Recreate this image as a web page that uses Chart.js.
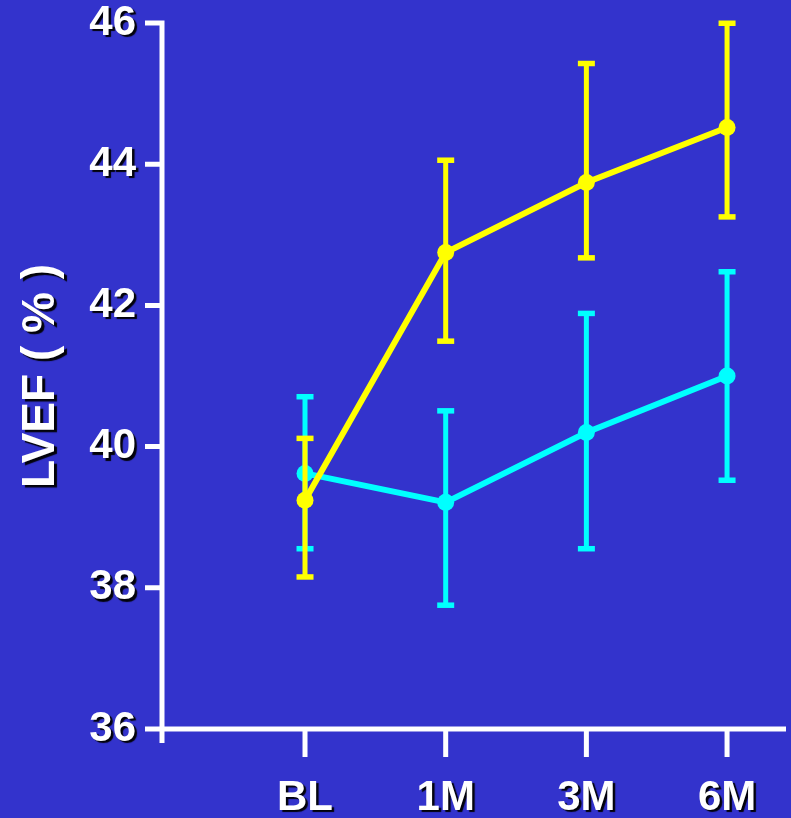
<!DOCTYPE html>
<html>
<head>
<meta charset="utf-8">
<title>LVEF</title>
<script src="https://cdn.jsdelivr.net/npm/chart.js@4.4.1/dist/chart.umd.min.js"></script>
<style>
  html, body { margin: 0; padding: 0; background: #3333cc; }
  #c { display: block; }
</style>
</head>
<body>
<canvas id="c" width="791" height="818"></canvas>
<script>
/* ── data ── */
const categories = ['BL', '1M', '3M', '6M'];
const yTicks     = [36, 38, 40, 42, 44, 46];

// yellow group
const yellowMean  = [39.24, 42.75, 43.74, 44.52];
const yellowUpper = [40.12, 44.06, 45.43, 46.00];
const yellowLower = [38.15, 41.49, 42.67, 43.25];

// cyan group
const cyanMean  = [39.62, 39.21, 40.20, 41.00];
const cyanUpper = [40.71, 40.51, 41.89, 42.48];
const cyanLower = [38.55, 37.75, 38.55, 39.52];

const BG     = '#3333cc';
const WHITE  = '#ffffff';
const YELLOW = '#ffff00';
const CYAN   = '#00ffff';
const FONT   = "'Liberation Sans', Arial, sans-serif";

const pts = arr => arr.map((v, i) => ({ x: i, y: v }));

/* ── background + text shadow (labels only) ── */
const slidePlugin = {
  id: 'slide',
  beforeDraw(chart) {
    const ctx = chart.ctx;
    ctx.save();
    ctx.fillStyle = BG;
    ctx.fillRect(0, 0, chart.width, chart.height);
    ctx.restore();
    ctx.shadowColor = 'rgba(0,0,0,0.95)';
    ctx.shadowOffsetX = 2.5;
    ctx.shadowOffsetY = 2.5;
    ctx.shadowBlur = 1;
  },
  beforeDatasetsDraw(chart) {
    const ctx = chart.ctx;
    ctx.shadowColor = 'rgba(0,0,0,0)';
    ctx.shadowOffsetX = 0;
    ctx.shadowOffsetY = 0;
    ctx.shadowBlur = 0;

    // axes drawn by hand so they stay shadow-free
    const { x, y } = chart.scales;
    const left = x.left, bottom = y.bottom;
    ctx.save();
    ctx.strokeStyle = WHITE;
    ctx.lineWidth = 5;
    ctx.lineCap = 'butt';
    ctx.beginPath();
    ctx.moveTo(left, y.getPixelForValue(46) - 2.5);
    ctx.lineTo(left, bottom + 14);
    ctx.moveTo(left - 17, bottom);
    ctx.lineTo(x.right, bottom);
    yTicks.forEach(t => {
      const py = y.getPixelForValue(t);
      ctx.moveTo(left - 17, py);
      ctx.lineTo(left, py);
    });
    categories.forEach((_, i) => {
      const px = x.getPixelForValue(i);
      ctx.moveTo(px, bottom);
      ctx.lineTo(px, bottom + 28);
    });
    ctx.stroke();
    ctx.restore();
  }
};

/* ── error bars, drawn right after each dataset ── */
const errorBars = {
  id: 'errorBars',
  afterDatasetDraw(chart, args) {
    const ds = chart.data.datasets[args.index];
    if (!ds.upper) return;
    const { x, y } = chart.scales;
    const ctx = chart.ctx;
    ctx.save();
    ctx.strokeStyle = ds.borderColor;
    ctx.fillStyle = ds.borderColor;
    ctx.lineWidth = 5;
    ds.upper.forEach((hi, i) => {
      const px = x.getPixelForValue(i);
      const top = y.getPixelForValue(hi);
      const bot = y.getPixelForValue(ds.lower[i]);
      ctx.beginPath();
      ctx.moveTo(px, top);
      ctx.lineTo(px, bot);
      ctx.stroke();
      ctx.fillRect(px - 8.5, top - 2.5, 17, 5.5);
      ctx.fillRect(px - 8.5, bot - 3, 17, 5.5);
    });
    ctx.restore();
  }
};

new Chart(document.getElementById('c').getContext('2d'), {
  type: 'line',
  data: {
    datasets: [
      {
        label: 'yellow',
        data: pts(yellowMean),
        upper: yellowUpper,
        lower: yellowLower,
        borderColor: YELLOW,
        backgroundColor: YELLOW,
        borderWidth: 6,
        pointRadius: 8.5,
        pointBorderWidth: 0,
        tension: 0,
        clip: false
      },
      {
        label: 'cyan',
        data: pts(cyanMean),
        upper: cyanUpper,
        lower: cyanLower,
        borderColor: CYAN,
        backgroundColor: CYAN,
        borderWidth: 6,
        pointRadius: 8.5,
        pointBorderWidth: 0,
        tension: 0,
        clip: false
      }
    ]
  },
  options: {
    responsive: false,
    animation: false,
    events: [],
    layout: { autoPadding: false, padding: { top: 23, right: 5, bottom: 0, left: 0 } },
    plugins: {
      legend: { display: false },
      tooltip: { enabled: false }
    },
    scales: {
      x: {
        type: 'linear',
        min: -1.0166,
        max: 3.419,
        afterBuildTicks: s => { s.ticks = categories.map((_, i) => ({ value: i })); },
        afterFit: s => { s.height = 89; s.paddingLeft = 0; s.paddingRight = 0; },
        border: { display: false },
        grid: { drawOnChartArea: false, drawTicks: true, tickLength: 28, color: 'rgba(0,0,0,0)' },
        ticks: {
          color: WHITE,
          padding: 16,
          maxRotation: 0,
          font: { family: FONT, size: 42, weight: 'bold' },
          callback: v => categories[v]
        }
      },
      y: {
        min: 36,
        max: 46,
        afterBuildTicks: s => { s.ticks = yTicks.map(v => ({ value: v })); },
        afterFit: s => { s.width = 162; s.paddingTop = 0; s.paddingBottom = 0; },
        border: { display: false },
        grid: { drawOnChartArea: false, drawTicks: true, tickLength: 17, color: 'rgba(0,0,0,0)' },
        ticks: {
          color: WHITE,
          padding: 9,
          font: { family: FONT, size: 42, weight: 'bold', lineHeight: 1 }
        },
        title: {
          display: true,
          text: 'LVEF ( % )',
          color: WHITE,
          padding: { top: 14, bottom: 0 },
          font: { family: FONT, size: 46, weight: 'bold' }
        }
      }
    }
  },
  plugins: [slidePlugin, errorBars]
});
</script>
</body>
</html>
